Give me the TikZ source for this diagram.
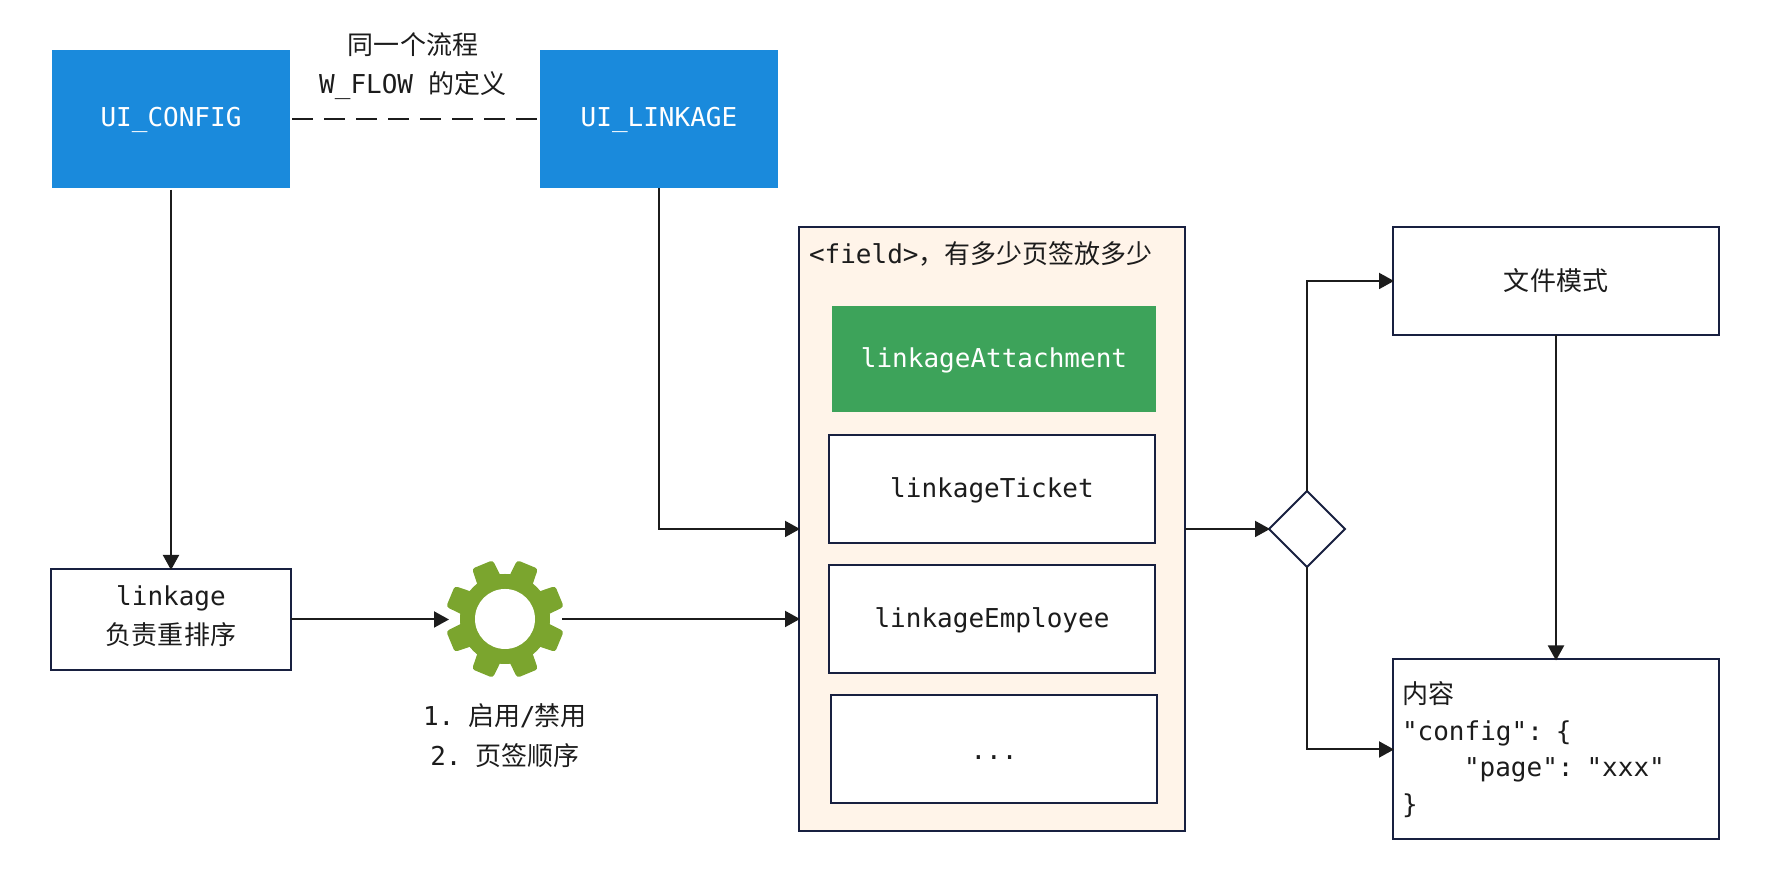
\documentclass[tikz,border=0pt]{standalone}
\usepackage{fontspec}
\setmonofont{DejaVu Sans Mono}
\newfontfamily\cjk{Noto Sans CJK SC}
\usetikzlibrary{positioning, shapes.geometric, arrows.meta, calc}
\definecolor{boxblue}{RGB}{26, 138, 220}
\definecolor{boxgreen}{RGB}{61, 163, 90}
\definecolor{fieldbg}{RGB}{255, 244, 233}
\definecolor{edgenavy}{RGB}{24, 32, 64}
\definecolor{linedark}{RGB}{28, 28, 28}
\definecolor{gearcol}{RGB}{123, 165, 46}

\begin{document}
\begin{tikzpicture}[
                font=\ttfamily\fontsize{7.4}{10.44}\selectfont,
                text=linedark,
                every node/.style={inner sep=0.05cm, outer sep=0pt},
                solidbox/.style={text=white, minimum width=2.38cm, minimum height=1.38cm, text height=0.21cm, text depth=0.05cm},
                linebox/.style={draw=edgenavy, line width=0.02cm, fill=white, minimum width=3.26cm, minimum height=1.08cm, align=center},
                oneline/.style={text height=0.235cm, text depth=0.06cm},
                link/.style={draw=linedark, line width=0.02cm, shorten >=-0.01cm, -{Triangle[length=0.15cm, width=0.16cm]}},
                caption/.style={align=center, font=\ttfamily\fontsize{7.4}{11.2}\selectfont}
            ]
                \useasboundingbox (0,0) rectangle (17.72,8.90);

                % top row
                \node[solidbox, fill=boxblue] (uiconfig) at (1.71, 7.71) {UI\_CONFIG};
                \node[solidbox, fill=boxblue] (uilinkage) at (6.59, 7.71) {UI\_LINKAGE};
                \node[caption] (flowtext) at (4.13, 8.24) {{\cjk 同一个流程}\\W\_FLOW {\cjk 的定义}};
                \draw[line width=0.02cm, draw=linedark, dash pattern=on 0.21cm off 0.11cm] (uiconfig.east) ++(0.02,0) -- (uilinkage.west);

                % linkage
                \node[linebox, minimum width=2.40cm, minimum height=1.01cm, text depth=0.08cm, font=\ttfamily\fontsize{7.4}{11.1}\selectfont] (linkage) at (1.71, 2.705) {linkage\\{\cjk 负责重排序}};

                % gear
                \node[circle, minimum size=1.14cm, inner sep=0pt] (gear) at (5.05, 2.71) {};
                \foreach \a in {22.5, 67.5, ..., 337.5} {
                    \fill[gearcol, rounded corners=0.03cm, shift={(gear.center)}, rotate=\a]
                        (0.40, -0.125) -- (0.59, -0.112) -- (0.59, 0.112) -- (0.40, 0.125) -- cycle;
                }
                \fill[gearcol] (gear.center) circle (0.45);
                \fill[white] (gear.center) circle (0.30);
                \node[caption] (gearlabel) at (5.05, 1.545) {1.\hspace{0.14cm}{\cjk 启用}\kern-0.005cm/\kern-0.005cm{\cjk 禁用}\\2.\hspace{0.14cm}{\cjk 页签顺序}};

                % field
                \node[draw=edgenavy, line width=0.02cm, fill=fieldbg, minimum width=3.86cm, minimum height=6.04cm] (field) at (9.92, 3.61) {};
                \node[anchor=west, inner sep=0pt] (fieldtitle) at (8.09, 6.36) {<field>{\cjk ，有多少页签放多少}};
                \node[fill=boxgreen, text=white, minimum width=3.24cm, minimum height=1.06cm, oneline] (attachment) at (9.94, 5.31) {linkageAttachment};
                \node[linebox, oneline] (ticket) at (9.92, 4.01) {linkageTicket};
                \node[linebox, oneline] (employee) at (9.92, 2.71) {linkageEmployee};
                \node[linebox, text height=0.28cm, text depth=0.07cm] (more) at (9.94, 1.41) {...};

                % right side
                \node[diamond, draw=edgenavy, line width=0.02cm, fill=white, aspect=1, minimum width=0.76cm, minimum height=0.76cm, inner sep=0pt] (choice) at (13.07, 3.61) {};
                \node[linebox] (filemode) at (15.56, 6.09) {{\cjk 文件模式}};
                \node[linebox, minimum height=1.80cm, text width=3.08cm, inner sep=0.09cm, align=left] (content) at (15.56, 1.405) {{\cjk 内容}\\"config": \{\\\hspace*{0.62cm}"page": "xxx"\\\}};

                % connectors
                \draw[link] (uiconfig.south) ++(0,-0.02) -- (linkage.north);
                \draw[link] (uilinkage.south) |- (field.west);
                \draw[link] (linkage.east) -- (linkage.east -| gear.west);
                \draw[link] (gear.east) -- (gear.east -| field.west);
                \draw[link] (field.east) -- (choice.west);
                \draw[link] (choice.north) |- (filemode.west);
                \draw[link] (choice.south) |- (content.west);
                \draw[link] (filemode.south) -- (content.north);
            \end{tikzpicture}
\end{document}
